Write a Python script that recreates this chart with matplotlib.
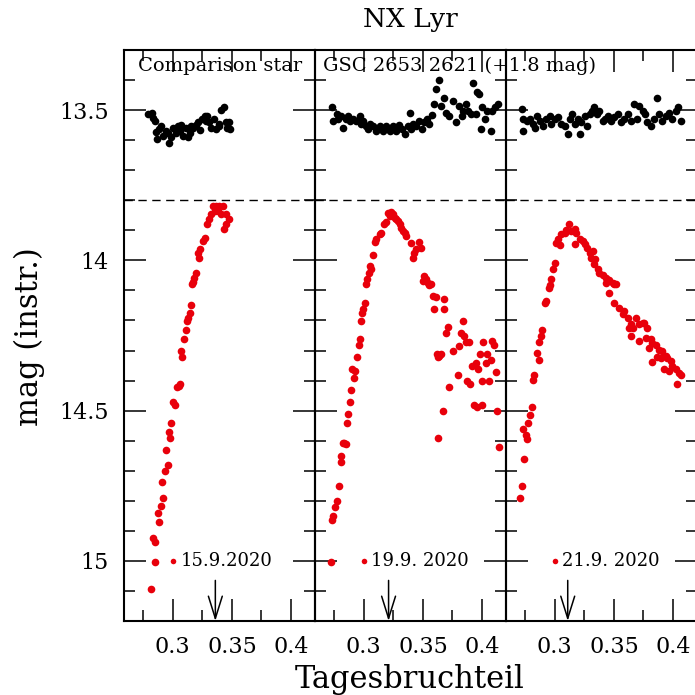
import matplotlib
matplotlib.use('Agg')
import matplotlib.pyplot as plt
from matplotlib.ticker import MultipleLocator

plt.rcParams['font.family'] = 'DejaVu Serif'

# --- panel 1 : 15.9.2020 ---
comp1_x = [.2793, .2821, .2835, .2849, .2869, .2886, .2905, .2919, .2942, .2970, .2989, .3003,
           .3026, .3045, .3065, .3087, .3110, .3129, .3149, .3171, .3194, .3213, .3227, .3250,
           .3269, .3289, .3306, .3325, .3345, .3367, .3390, .3409, .3437, .3457, .3479, .3485,
           .2858, .2961, .3073, .3157, .3278, .3395, .3451]
comp1_y = [13.513, 13.510, 13.525, 13.536, 13.597, 13.563, 13.554, 13.586, 13.569, 13.608, 13.591, 13.561,
           13.577, 13.552, 13.569, 13.586, 13.561, 13.591, 13.577, 13.561, 13.550, 13.541, 13.566, 13.530,
           13.521, 13.519, 13.541, 13.561, 13.530, 13.563, 13.547, 13.499, 13.491, 13.558, 13.539, 13.563,
           13.574, 13.577, 13.550, 13.554, 13.536, 13.554, 13.539]
var1_x = [.3339, .3367, .3395, .3423, .3353, .3381, .3325, .3409, .3451, .3479, .3306, .3289,
          .3446, .3437, .3269, .3255, .3227, .3213, .3222, .3194, .3177, .3166,
          .3171, .3152, .3143, .3129, .3121, .3110, .3093, .3068, .3082, .3054, .3065, .3037,
          .3003, .3017, .2989, .2970, .2975, .2947, .2956, .2933, .2911, .2919, .2897, .2872,
          .2883, .2832, .2854, .2847, .2817]
var1_y = [13.819, 13.819, 13.819, 13.819, 13.836, 13.836, 13.847, 13.847, 13.847, 13.861, 13.861, 13.880,
          13.880, 13.894, 13.924, 13.936, 13.963, 13.974, 13.991, 14.041, 14.058, 14.077,
          14.072, 14.150, 14.174, 14.191, 14.202, 14.230, 14.261, 14.300, 14.321, 14.417, 14.411, 14.421,
          14.472, 14.480, 14.541, 14.571, 14.591, 14.630, 14.680, 14.700, 14.739, 14.791, 14.819, 14.841,
          14.871, 14.924, 14.937, 15.004, 15.092]

# --- panel 2 : 19.9.2020 ---
comp2_x = [.2728, .2742, .2770, .2784, .2812, .2826, .2849, .2868, .2882, .2910, .2938, .2966,
           .2980, .2994, .3017, .3036, .3050, .3078, .3106, .3134, .3162, .3190, .3218, .3247,
           .3274, .3297, .3325, .3353, .3373, .3392, .3401, .3420, .3443, .3471, .3493, .3513,
           .3532, .3555, .3577, .3597, .3611, .3633, .3653, .3675, .3695, .3717, .3756, .3779,
           .3807, .3829, .3840, .3863, .3885, .3905, .3924, .3947, .3961, .3975, .3989, .4003,
           .4025, .4045, .4073, .4087, .4109, .4137]
comp2_y = [13.491, 13.536, 13.513, 13.530, 13.521, 13.561, 13.530, 13.519, 13.536, 13.528, 13.536, 13.519,
           13.547, 13.536, 13.554, 13.563, 13.547, 13.554, 13.569, 13.554, 13.569, 13.554, 13.569, 13.554,
           13.569, 13.550, 13.563, 13.580, 13.552, 13.510, 13.563, 13.547, 13.554, 13.536, 13.563, 13.541,
           13.530, 13.547, 13.517, 13.480, 13.430, 13.399, 13.486, 13.461, 13.510, 13.521, 13.469, 13.541,
           13.486, 13.519, 13.502, 13.480, 13.502, 13.513, 13.410, 13.513, 13.441, 13.447, 13.563, 13.491,
           13.530, 13.502, 13.569, 13.502, 13.491, 13.480]
var2_x = [.3204, .3233, .3247, .3218, .3261, .3274, .3289, .3185, .3168, .3303, .3317, .3331,
          .3345, .3148, .3134, .3358, .3106, .3093, .3401, .3471, .3485, .3443, .3429, .3415,
          .3078, .3050, .3064, .3045, .3028, .3017, .3513, .3527, .3541,
          .3008, .2994, .2989, .2980, .2966, .2958, .2947, .2905, .2924, .2916, .2896, .2882,
          .2868, .2860, .2835, .2849, .2821, .2804, .2812, .2793, .2776, .2756, .2742, .2731, .2722,
          .3499, .3555, .3569, .3583, .3611, .3597, .3681, .3675, .3709, .3695, .3835, .3821,
          .3849, .3863, .3891, .3807, .3756, .3619, .3639, .3653, .3625, .3793, .3723, .3871,
          .3899, .4008, .4081, .4101, .3980, .4045, .4073, .4031, .3947, .3913, .3969, .3997,
          .4059, .4121, .3667, .3933, .3961, .3997, .4129, .3625, .4143]
var2_y = [13.841, 13.839, 13.847, 13.852, 13.858, 13.863, 13.869, 13.872, 13.880, 13.880, 13.891, 13.902,
          13.908, 13.908, 13.913, 13.919, 13.930, 13.939, 13.941, 13.939, 13.958, 13.961, 13.974, 13.991,
          13.983, 14.019, 14.028, 14.041, 14.063, 14.080, 14.052, 14.063, 14.074,
          14.141, 14.163, 14.174, 14.202, 14.261, 14.280, 14.321, 14.361, 14.369, 14.391, 14.430, 14.472,
          14.511, 14.541, 14.608, 14.610, 14.608, 14.650, 14.672, 14.752, 14.800, 14.821, 14.850, 14.863, 15.003,
          14.069, 14.083, 14.080, 14.119, 14.121, 14.161, 14.130, 14.161, 14.221, 14.241, 14.202, 14.241,
          14.252, 14.271, 14.271, 14.286, 14.300, 14.310, 14.319, 14.313, 14.321, 14.383, 14.421, 14.400,
          14.411, 14.271, 14.269, 14.283, 14.310, 14.310, 14.330, 14.341, 14.341, 14.350, 14.361, 14.402,
          14.400, 14.371, 14.502, 14.480, 14.489, 14.482, 14.502, 14.591, 14.621]

# --- panel 3 : 21.9.2020 ---
comp3_x = [.2720, .2728, .2734, .2762, .2790, .2818, .2832, .2852, .2874, .2902, .2930, .2958,
           .2972, .3000, .3028, .3056, .3084, .3112, .3126, .3148, .3168, .3196, .3210, .3224,
           .3252, .3272, .3294, .3316, .3336, .3356, .3378, .3406, .3429, .3448, .3476, .3504,
           .3532, .3560, .3588, .3616, .3644, .3672, .3692, .3714, .3742, .3765, .3784, .3812,
           .3840, .3868, .3882, .3910, .3938, .3966, .3994, .4022, .4045, .4064]
comp3_y = [13.497, 13.530, 13.569, 13.536, 13.530, 13.547, 13.561, 13.521, 13.536, 13.552, 13.530, 13.521,
           13.547, 13.530, 13.524, 13.547, 13.554, 13.580, 13.530, 13.513, 13.547, 13.530, 13.580, 13.539,
           13.521, 13.554, 13.513, 13.502, 13.491, 13.513, 13.502, 13.536, 13.530, 13.519, 13.536, 13.524,
           13.513, 13.541, 13.528, 13.513, 13.536, 13.480, 13.530, 13.486, 13.502, 13.513, 13.541, 13.554,
           13.530, 13.461, 13.513, 13.536, 13.519, 13.508, 13.528, 13.502, 13.491, 13.536]
var3_x = [.3120, .3098, .3140, .3168, .3182, .3084, .3056, .3028, .3014, .3042, .3210, .3238,
          .3252, .3168, .3272, .3294, .3322, .3308, .3344, .3336, .3364, .3378, .3406, .3434,
          .3462, .3490, .3518, .3000, .2986, .2972, .2958,
          .2952, .2930, .2916, .2896, .2880, .2868, .2852, .2866, .2826, .2818, .2804, .2790,
          .2776, .2734, .2756, .2770, .2742, .2720, .2706,
          .3434, .3504, .3462, .3504, .3546, .3588, .3574, .3616, .3686, .3644, .3658, .3630,
          .3714, .3742, .3756, .3784, .3644, .3714, .3770, .3812, .3826, .3854, .3798, .3882,
          .3910, .3868, .3826, .3938, .3952, .3896, .3924, .3980, .3994, .3966, .4022, .4050,
          .4064, .4036]
var3_y = [13.880, 13.899, 13.902, 13.897, 13.908, 13.908, 13.913, 13.930, 13.943, 13.950, 13.930, 13.936,
          13.947, 13.947, 13.958, 13.974, 13.969, 13.991, 13.997, 14.013, 14.030, 14.041, 14.047, 14.058,
          14.066, 14.074, 14.080, 14.008, 14.030, 14.063, 14.083,
          14.091, 14.136, 14.141, 14.230, 14.250, 14.272, 14.308, 14.330, 14.380, 14.397, 14.489, 14.513,
          14.541, 14.561, 14.580, 14.594, 14.661, 14.752, 14.791,
          14.074, 14.080, 14.108, 14.141, 14.158, 14.169, 14.180, 14.191, 14.191, 14.213, 14.224, 14.224,
          14.213, 14.208, 14.208, 14.224, 14.252, 14.269, 14.258, 14.261, 14.274, 14.280, 14.291, 14.297,
          14.302, 14.321, 14.339, 14.317, 14.324, 14.324, 14.361, 14.336, 14.350, 14.369, 14.363, 14.374,
          14.383, 14.410]

dates = ['15.9.2020', '19.9. 2020', '21.9. 2020']
maxima = [0.336, 0.321, 0.311]   # arrows: time of maximum
ref_level = 13.8

panels = [(comp1_x, comp1_y, var1_x, var1_y),
          (comp2_x, comp2_y, var2_x, var2_y),
          (comp3_x, comp3_y, var3_x, var3_y)]

fig = plt.figure(figsize=(6.95, 6.95), dpi=100)
lefts = [0.1784, 0.4532, 0.7280]
axes = []
for i, (cx, cy, vx, vy) in enumerate(panels):
    ax = fig.add_axes([lefts[i], 0.1065, 0.2748, 0.8215])
    ax.set_facecolor('none')
    ax.plot(cx, cy, 'o', color='black', ms=5.5, mew=0)
    ax.plot(vx, vy, 'o', color='#e8000b', ms=5.5, mew=0)
    ax.axhline(ref_level, color='black', lw=1, ls=(0, (6, 4)))
    # date label with marker
    ax.plot(0.3, 15.0, 'o', color='#e8000b', ms=4, mew=0)
    ax.text(0.3065, 15.0, dates[i], fontsize=13, va='center', ha='left')
    ax.annotate('', xy=(maxima[i], 15.2), xytext=(maxima[i], 15.065),
                arrowprops=dict(arrowstyle='->,head_length=0.8,head_width=0.25',
                                color='black', lw=1.1, mutation_scale=20,
                                shrinkA=0, shrinkB=0))
    ax.set_xlim(0.2588, 0.4202)
    ax.set_ylim(15.2, 13.3)
    ax.set_xticks([0.3, 0.35, 0.4])
    ax.set_xticklabels(['0.3', '0.35', '0.4'])
    ax.xaxis.set_minor_locator(MultipleLocator(0.025))
    ax.set_yticks([13.5, 14, 14.5, 15])
    ax.set_yticklabels(['13.5', '14', '14.5', '15'])
    ax.yaxis.set_minor_locator(MultipleLocator(0.1))
    ax.tick_params(which='both', direction='in', top=True, right=True, width=1.1, labelsize=16, pad=11)
    ax.tick_params(which='major', length=16)
    ax.tick_params(which='minor', length=8)
    if i > 0:
        ax.tick_params(labelleft=False)
    for s in ax.spines.values():
        s.set_linewidth(1.5)
    axes.append(ax)

axes[0].text(0.2706, 13.353, 'Comparison star', fontsize=14, va='center', ha='left')
fig.text(0.2655, 13.353, 'GSC 2653 2621 (+1.8 mag)', fontsize=14, va='center', ha='left',
         transform=axes[1].transData)

fig.text(0.59, 0.972, 'NX Lyr', fontsize=19, ha='center', va='center')
fig.text(0.59, 0.022, 'Tagesbruchteil', fontsize=22, ha='center', va='center')
fig.text(0.042, 0.515, 'mag (instr.)', fontsize=22, ha='center', va='center', rotation=90)

fig.savefig('out.png', dpi=100)
